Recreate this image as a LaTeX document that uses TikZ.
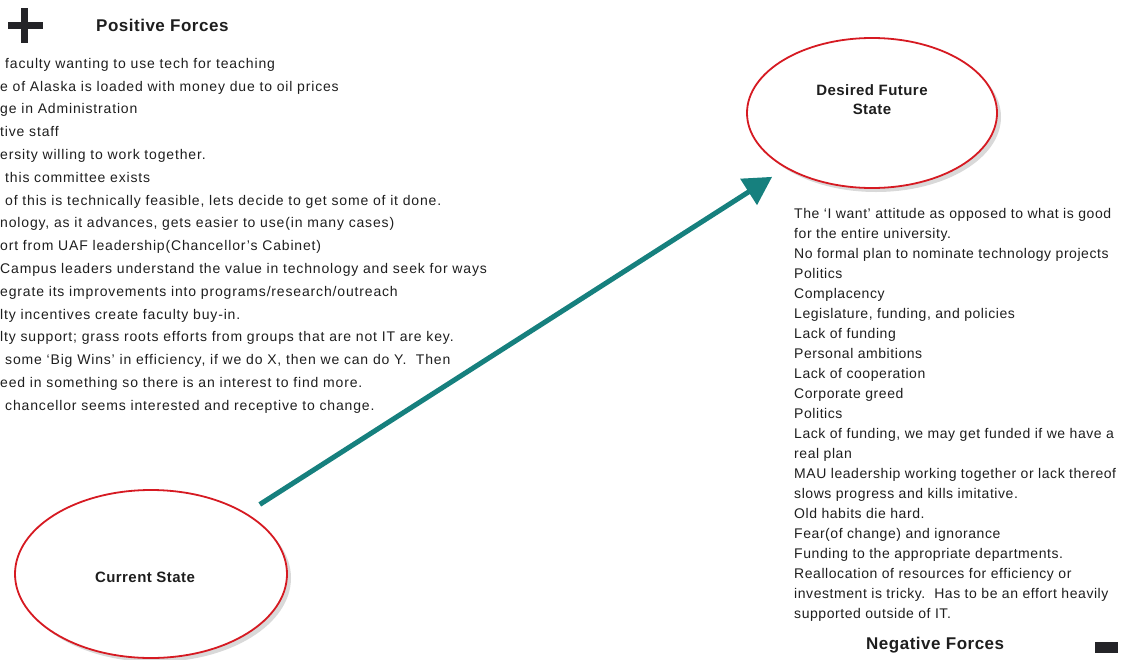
\documentclass[tikz,border=0pt]{standalone}
\usepackage{fontspec}
\setmainfont{Liberation Sans}
\usetikzlibrary{arrows.meta,shapes.geometric,shadows}
\definecolor{stateRed}{RGB}{214,26,34}
\definecolor{flowTeal}{RGB}{22,128,126}
\definecolor{iconGray}{RGB}{36,36,40}
\definecolor{inkGray}{RGB}{30,30,30}
\begin{document}
\begin{tikzpicture}[x=1pt,y=-1pt,
    every node/.style={inner sep=0pt, text=inkGray},
    state/.style={ellipse, draw=stateRed, line width=1.8pt, fill=white,
        drop shadow={opacity=0.3, shadow xshift=4pt, shadow yshift=-4pt},
        font=\fontsize{15}{19}\selectfont\bfseries\addfontfeatures{LetterSpace=3}},
    forces/.style={anchor=north west, align=left,
        font=\fontsize{14}{20}\selectfont\addfontfeatures{LetterSpace=4}},
    title/.style={anchor=west, font=\fontsize{17}{20}\selectfont\bfseries\addfontfeatures{LetterSpace=3}},
    flow/.style={draw=flowTeal, line width=5pt, -{Triangle[length=28pt,width=30pt]}},
    ]
\useasboundingbox (0,0) rectangle (1138,659);
% states
\node[state, minimum width=250pt, minimum height=150pt,
    label={[yshift=13pt, align=center, font=\fontsize{15}{19}\selectfont\bfseries\addfontfeatures{LetterSpace=3}]center:Desired Future\\State}]
    (desired) at (872,113) {};
\node[state, minimum width=272pt, minimum height=168pt,
    label={[xshift=-6pt, yshift=-3pt, font=\fontsize{15}{19}\selectfont\bfseries\addfontfeatures{LetterSpace=3}]center:Current State}]
    (current) at (151,574) {};
\draw[flow, shorten <=16pt, shorten >=16pt] (current) -- (desired);
% positive forces
\fill[iconGray] (21,8) rectangle (28,43);
\fill[iconGray] (8,22) rectangle (43,29);
\node[title] (positive) at (96,25) {Positive Forces};
\node[forces, font=\fontsize{14}{22.8}\selectfont\addfontfeatures{LetterSpace=6}] (positivelist) at (0,58) {%
\hspace*{5pt}faculty wanting to use tech for teaching\\
e of Alaska is loaded with money due to oil prices\\
ge in Administration\\
tive staff\\
ersity willing to work together.\\
\hspace*{5pt}this committee exists\\
\hspace*{5pt}of this is technically feasible, lets decide to get some of it done.\\
nology, as it advances, gets easier to use(in many cases)\\
ort from UAF leadership(Chancellor’s Cabinet)\\
Campus leaders understand the value in technology and seek for ways\\
egrate its improvements into programs/research/outreach\\
lty incentives create faculty buy-in.\\
lty support; grass roots efforts from groups that are not IT are key.\\
\hspace*{5pt}some ‘Big Wins’ in efficiency, if we do X, then we can do Y.\ \ Then\\
eed in something so there is an interest to find more.\\
\hspace*{5pt}chancellor seems interested and receptive to change.};
% negative forces
\node[forces] (negativelist) at (794,208) {%
The ‘I want’ attitude as opposed to what is good\\
for the entire university.\\
No formal plan to nominate technology projects\\
Politics\\
Complacency\\
Legislature, funding, and policies\\
Lack of funding\\
Personal ambitions\\
Lack of cooperation\\
Corporate greed\\
Politics\\
Lack of funding, we may get funded if we have a\\
real plan\\
MAU leadership working together or lack thereof\\
slows progress and kills imitative.\\
Old habits die hard.\\
Fear(of change) and ignorance\\
Funding to the appropriate departments.\\
Reallocation of resources for efficiency or\\
investment is tricky.\ \ Has to be an effort heavily\\
supported outside of IT.};
\node[title] (negative) at (866,645) {Negative Forces};
\fill[iconGray] (1095,642) rectangle (1118,653);
\end{tikzpicture}
\end{document}
